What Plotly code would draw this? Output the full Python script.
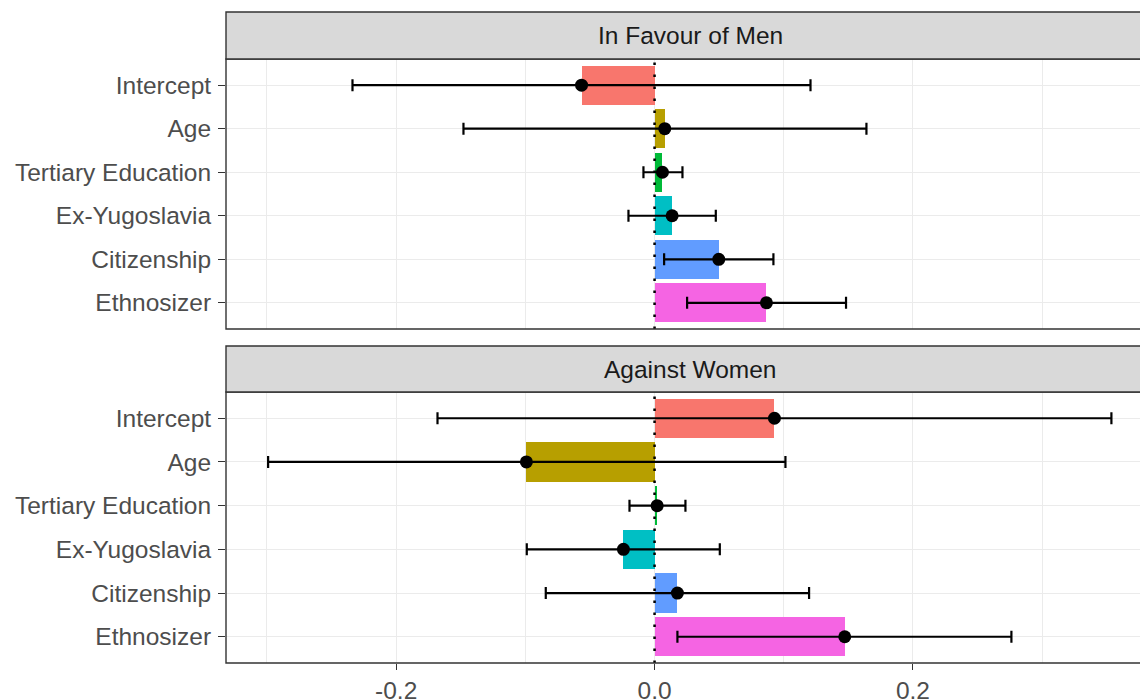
import plotly.graph_objects as go

# ---- data ----
terms = ["Intercept", "Age", "Tertiary Education", "Ex-Yugoslavia", "Citizenship", "Ethnosizer"]
term_colors = ["#F8766D", "#B79F00", "#00BA38", "#00BFC4", "#619CFF", "#F564E3"]
facets = ["In Favour of Men", "Against Women"]

men_est = [-0.0565, 0.0079, 0.0061, 0.0136, 0.0497, 0.0866]
men_lo = [-0.2338, -0.1479, -0.0086, -0.0202, 0.0074, 0.0252]
men_hi = [0.1207, 0.1640, 0.0216, 0.0474, 0.0920, 0.1482]

women_est = [0.0928, -0.0992, 0.0020, -0.0241, 0.0177, 0.1472]
women_lo = [-0.1680, -0.2991, -0.0194, -0.0989, -0.0842, 0.0177]
women_hi = [0.3536, 0.1013, 0.0239, 0.0505, 0.1196, 0.2762]

x_tickvals = [-0.2, 0.0, 0.2]
x_ticktext = ["-0.2", "0.0", "0.2"]
x_minor = [-0.3, -0.1, 0.1, 0.3]

FONT = "Liberation Sans, Arial, sans-serif"
FS = 24.5
W, H = 1140, 699
ML, MR, MT, MB = 226, 0, 12, 36
PH = H - MT - MB
PW = W - ML - MR


def py(p):
    return (H - MB - p) / PH


panel_dom = [[py(329), py(59)], [0.0, py(392)]]
strip_dom = [[py(59), 1.0], [py(392), py(346)]]

fig = go.Figure()

series = [(men_est, men_lo, men_hi), (women_est, women_lo, women_hi)]
for i, (est, lo, hi) in enumerate(series):
    xa = "x" if i == 0 else "x2"
    ya = "y" if i == 0 else "y2"
    fig.add_trace(go.Bar(
        x=est, y=terms, orientation="h", width=0.9,
        marker=dict(color=term_colors, line=dict(width=0)),
        xaxis=xa, yaxis=ya, showlegend=False, hoverinfo="skip"))
    fig.add_trace(go.Scatter(
        x=est, y=terms, mode="markers",
        marker=dict(color="black", size=13),
        error_x=dict(type="data", symmetric=False,
                     array=[h - e for h, e in zip(hi, est)],
                     arrayminus=[e - l for e, l in zip(est, lo)],
                     color="black", thickness=2.2, width=6),
        xaxis=xa, yaxis=ya, showlegend=False))

xrange = [-0.3317, -0.3317 + PW / 1292.0]

common_x = dict(
    range=xrange, zeroline=False, showgrid=True, gridcolor="#EBEBEB", gridwidth=1.3,
    tickvals=x_tickvals, ticktext=x_ticktext,
    minor=dict(tickvals=x_minor, showgrid=True, gridcolor="#EBEBEB", gridwidth=0.7, ticks=""),
    showline=False, automargin=False,
)
common_y = dict(
    type="category", categoryorder="array", categoryarray=terms,
    range=[5.6, -0.6], showgrid=True, gridcolor="#EBEBEB", gridwidth=1.3,
    ticks="outside", ticklen=7, tickwidth=1.3, tickcolor="#333333",
    ticklabelstandoff=2,
    tickfont=dict(family=FONT, size=FS, color="#4D4D4D"),
    zeroline=False, showline=False, automargin=False,
)

fig.update_layout(
    width=W, height=H,
    margin=dict(l=ML, r=MR, t=MT, b=MB, autoexpand=False),
    paper_bgcolor="white", plot_bgcolor="white",
    bargap=0, barmode="overlay",
    xaxis=dict(common_x, anchor="y", matches="x2", showticklabels=False, ticks=""),
    xaxis2=dict(common_x, anchor="y2", ticks="outside", ticklen=6, tickwidth=1.3,
                tickcolor="#333333",
                tickfont=dict(family=FONT, size=FS, color="#4D4D4D")),
    yaxis=dict(common_y, domain=panel_dom[0], anchor="x"),
    yaxis2=dict(common_y, domain=panel_dom[1], anchor="x2"),
)

shapes = []
annotations = []
for i in range(2):
    xa = "x" if i == 0 else "x2"
    ya = "y" if i == 0 else "y2"
    # zero dotted line
    shapes.append(dict(type="line", xref=xa, yref=ya + " domain", x0=0, x1=0, y0=0, y1=1,
                       line=dict(color="black", width=2.5, dash="2.5px,9.5px"), layer="above"))
    # panel border
    shapes.append(dict(type="rect", xref="paper", yref="paper", x0=0, x1=1.05,
                       y0=panel_dom[i][0], y1=panel_dom[i][1],
                       line=dict(color="#333333", width=1.4), fillcolor="rgba(0,0,0,0)",
                       layer="above"))
    # strip
    shapes.append(dict(type="rect", xref="paper", yref="paper", x0=0, x1=1.05,
                       y0=strip_dom[i][0], y1=strip_dom[i][1],
                       line=dict(color="#333333", width=1.4), fillcolor="#D9D9D9",
                       layer="above"))
    annotations.append(dict(text=facets[i], xref="paper", yref="paper",
                            x=(690 - ML) / PW, y=(strip_dom[i][0] + strip_dom[i][1]) / 2,
                            xanchor="center", yanchor="middle", showarrow=False,
                            font=dict(family=FONT, size=FS, color="#1A1A1A")))

fig.update_layout(shapes=shapes, annotations=annotations)

fig.write_html("out.html", config={"displayModeBar": False},
               post_script="document.body.style.margin='0';document.body.style.overflow='hidden';")
